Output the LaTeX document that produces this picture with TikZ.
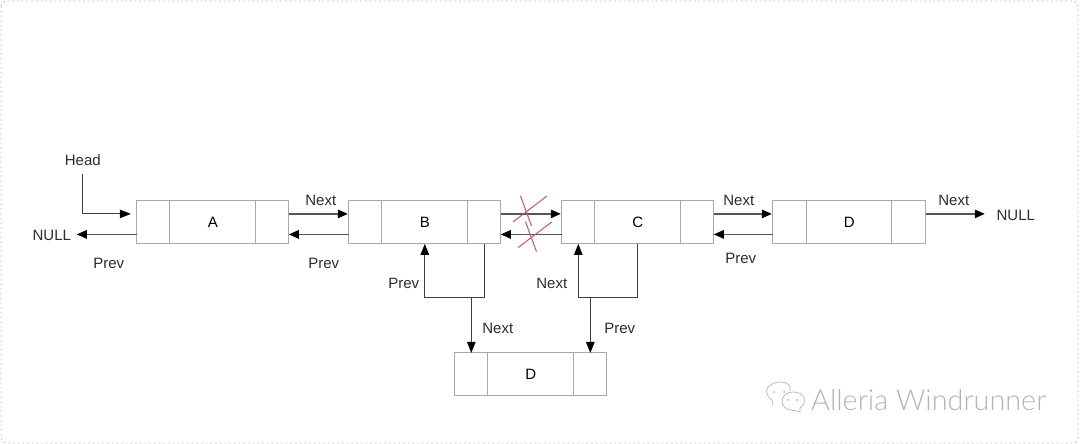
\documentclass[tikz,border=0pt]{standalone}
\usepackage{fontspec}
\setmainfont{Liberation Sans}
\newfontfamily\wmfont{Lato Light}
\usetikzlibrary{arrows.meta}
\tikzset{
  cell/.style={draw=boxgray,line width=0.9pt,fill=white,anchor=north west,inner sep=0pt,outer sep=0pt,minimum height=43pt,font=\fontsize{15}{17}\selectfont},
  lbl/.style={inner sep=0pt,font=\fontsize{15}{17}\selectfont,text=labelgray},
  hlink/.style={draw=linkgray,line width=1.4pt,-{Triangle[length=10pt,width=8.5pt,color=black]}},
  vlink/.style={draw=black!75,line width=1pt,-{Triangle[length=11pt,width=8.5pt,color=black]}},
  cross/.style={draw=crossred,line width=1pt},
  wm/.style={draw=wmgray,line width=0.7pt}
}
\definecolor{boxgray}{HTML}{A8A8A8}
\definecolor{linkgray}{HTML}{555555}
\definecolor{labelgray}{HTML}{2B2B2B}
\definecolor{crossred}{HTML}{D05070}
\definecolor{wmgray}{HTML}{B4B4B4}
\definecolor{framegray}{HTML}{C4C4C4}
\newcommand{\listbox}[7]{%
  % prefix, x0, x1, x2, x3, ytop, label
  \pgfmathsetmacro{\wa}{#3-#2}\pgfmathsetmacro{\wb}{#4-#3}\pgfmathsetmacro{\wc}{#5-#4}
  \node[cell,minimum width=\wa pt] (#1L) at (#2,#6) {};
  \node[cell,minimum width=\wb pt] (#1M) at (#3,#6) {#7};
  \node[cell,minimum width=\wc pt] (#1R) at (#4,#6) {};
}
\begin{document}
\begin{tikzpicture}[x=1pt,y=-1pt]
\useasboundingbox (0,0) rectangle (1080,444);
\draw[framegray,line width=0.9pt,dash pattern=on 2pt off 2.7pt,rounded corners=5pt] (1,1) rectangle (1078,443);
\begin{scope}[shift={(-0.2,-0.1)}]
\listbox{a}{137}{170}{256}{289}{201}{A}
\listbox{b}{349}{382}{468}{501}{201}{B}
\listbox{c}{562}{595}{681}{714}{201}{C}
\listbox{d}{773}{807}{892}{926}{201}{D}
\listbox{e}{455}{488}{574}{607}{353}{D}

% horizontal links
\foreach \p/\q in {a/b,b/c,c/d}{
  \draw[hlink] ([yshift=8.5pt]\p R.east) -- ([yshift=8.5pt,xshift=-1pt]\q L.west);
  \draw[hlink] ([yshift=-12pt]\q L.west) -- ([yshift=-12pt]\p R.east);
}
% free ends
\coordinate (headtop) at (83,174);
\coordinate (nullL) at (77,234.5);
\coordinate (nullR) at (985,214);
\coordinate (bj) at (471.5,298);
\coordinate (cj) at (590.5,298);

\draw[vlink] (headtop) |- ([yshift=8.5pt,xshift=-6pt]aL.west);
\draw[hlink] ([yshift=-12pt]aL.west) -- (nullL);
\draw[hlink] ([yshift=8.5pt]dR.east) -- (nullR);

% inserted node
\draw[vlink] (bR.south) |- (bj) -| (bM.south);
\draw[vlink] (bj) -- (eL.north);
\draw[vlink] (cM.south) |- (cj) -| (cL.south);
\draw[vlink] (cj) -- (eR.north);

% labels
\node[lbl] (tHead) at (83,160) {Head};
\node[lbl] (tNullL) at (52,235.5) {NULL};
\node[lbl] (tNullR) at (1016,215.5) {NULL};
\node[lbl] (t1) at (109,264) {Prev};
\node[lbl] (t2) at (321,201) {Next};
\node[lbl] (t3) at (324,264) {Prev};
\node[lbl] (t4) at (404,284) {Prev};
\node[lbl] (t5) at (498,329) {Next};
\node[lbl] (t6) at (552,284) {Next};
\node[lbl] (t7) at (620,329) {Prev};
\node[lbl] (t8) at (739,201) {Next};
\node[lbl] (t9) at (741,259) {Prev};
\node[lbl] (t10) at (954,201) {Next};

% red crosses
\draw[cross] (520.7,196) -- (531.7,226);
\draw[cross] (513.3,222) -- (547.3,196);
\draw[cross] (525.7,221.7) -- (536.7,251.7);
\draw[cross] (518.3,247.7) -- (552,222);
\end{scope}

% watermark
\draw[wm] (773,405) -- (772,400) .. controls (764,394) and (764,385) .. (778,382) .. controls (788,381) and (792,387) .. (790,391);
\draw[wm] (793,392) .. controls (782,392) and (778,404) .. (787,409) .. controls (792,411) and (797,410) .. (800,412) -- (800,408) .. controls (808,402) and (805,392) .. (793,392);
\fill[wmgray] (774,392) circle (1pt) (784,392) circle (1pt) (788,400) circle (1pt) (797,400) circle (1pt);
\node[anchor=west,inner sep=0pt,text=wmgray,font=\wmfont\fontsize{28.8}{31}\selectfont] (wmtext) at (811,400) {Alleria Windrunner};
\end{tikzpicture}
\end{document}
